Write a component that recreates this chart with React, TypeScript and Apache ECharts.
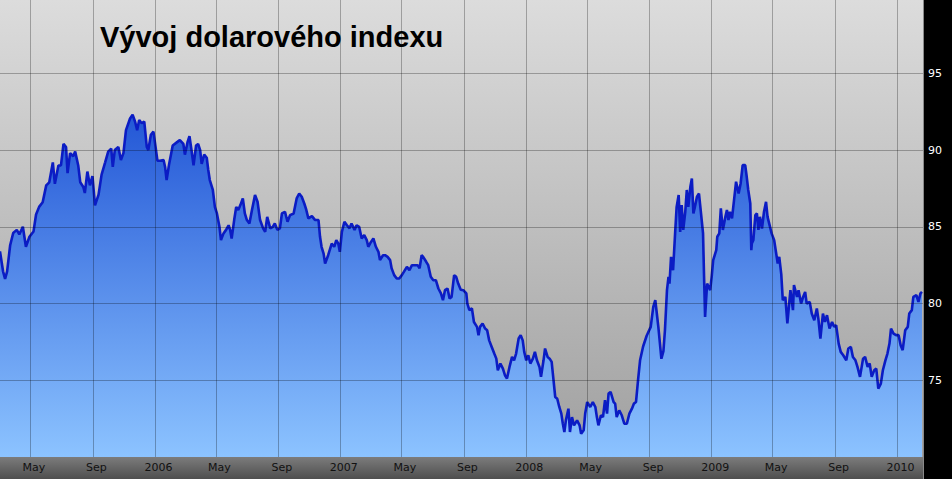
import React, { useEffect, useRef } from 'react';
import * as echarts from 'echarts';

// Dates are stored as day offsets from 2 March 2005.
const START = { y: 2005, m: 2, d: 2 };
const END_OFFSET = 1817;

const dayOffsets = [
  0, 6, 10, 14, 20, 26, 33, 38, 45, 51, 58, 66, 71, 77, 84, 91, 97, 104, 108, 115,
  120, 125, 130, 133, 138, 144, 148, 154, 158, 164, 167, 172, 177, 182, 187, 194, 200, 207, 213, 219,
  222, 226, 233, 238, 243, 248, 256, 261, 266, 270, 274, 279, 284, 289, 292, 297, 302, 305, 310, 315,
  322, 325, 328, 333, 340, 348, 354, 361, 364, 369, 373, 377, 381, 386, 390, 394, 397, 402, 407, 410,
  413, 419, 423, 427, 432, 435, 440, 445, 450, 453, 456, 461, 465, 469, 473, 478, 482, 486, 491, 496,
  502, 507, 512, 518, 522, 526, 532, 537, 541, 546, 551, 555, 561, 566, 571, 578, 584, 589, 594, 599,
  603, 607, 614, 620, 627, 630,
  633, 637, 640, 646, 653, 658, 662, 666, 669, 673, 678, 683, 688, 692, 698, 702, 707, 712, 717, 722,
  725, 730, 735, 740, 745, 748, 754, 758, 763, 768, 771, 776, 781, 786, 791, 795, 801, 806, 811, 817,
  822, 826, 830, 833, 839, 843, 848, 853, 858, 863, 868, 872, 876, 881, 885, 889, 894, 898, 902, 907, 912,
  918, 920, 924, 929, 933, 939, 942, 945, 950, 955, 959, 963, 968, 973, 977, 980, 985, 990, 994, 998,
  1003, 1008, 1012, 1016, 1021, 1025, 1029, 1032, 1036, 1040, 1044, 1049, 1053, 1057, 1062, 1065, 1070, 1073, 1078, 1082,
  1086, 1089, 1093, 1097, 1101, 1105, 1108, 1111, 1114, 1119, 1122, 1126, 1130, 1136, 1141, 1144, 1149, 1152, 1156, 1162,
  1167, 1172, 1175, 1178, 1183, 1187, 1191, 1195, 1198, 1202, 1208, 1211, 1214, 1219, 1224, 1229, 1234, 1239, 1244, 1248,
  1252, 1256, 1260,
  1266, 1273, 1281, 1286, 1290, 1293, 1296, 1302, 1306, 1309, 1313, 1316, 1318, 1321, 1325, 1329, 1332, 1336, 1339, 1342,
  1345, 1349, 1352, 1355, 1359, 1362, 1365, 1368, 1372, 1376, 1380, 1384, 1386, 1388, 1392, 1395, 1398, 1401, 1404, 1410,
  1412, 1416, 1419, 1423, 1428, 1431, 1434, 1437, 1441, 1445, 1449, 1454, 1458, 1462, 1467, 1470, 1473, 1477, 1479, 1480,
  1483, 1487, 1490, 1493, 1496, 1500, 1504, 1508, 1511, 1515, 1519, 1524, 1528, 1531, 1534, 1538,
  1541, 1546, 1550, 1556, 1561, 1563, 1569, 1572, 1577, 1581, 1585, 1588, 1594, 1598, 1603, 1608, 1611, 1615, 1620, 1624,
  1628, 1633, 1638, 1642, 1646, 1651, 1655, 1660, 1666, 1670, 1675, 1679, 1684, 1688, 1693, 1699, 1703, 1708, 1712, 1716,
  1721, 1725, 1729, 1734, 1738, 1743, 1747, 1751, 1754, 1759, 1764, 1769, 1773, 1777, 1782, 1787, 1790, 1795, 1798, 1804,
  1808, 1812, 1815,
];

const dollarIndex = [
  83.4, 82.1, 81.6, 82.1, 83.8, 84.6, 84.8, 84.5, 85.0, 83.7, 84.35, 84.7, 85.8, 86.3, 86.6, 87.7, 87.9, 89.2, 87.8, 89.0,
  89.0, 90.4, 90.2, 88.5, 89.8, 89.6, 89.9, 89.0, 87.9, 87.6, 87.2, 88.6, 87.7, 88.3, 86.4, 87.1, 88.4, 89.2, 89.9, 90.1,
  88.9, 90.0, 90.2, 89.35, 89.8, 91.3, 92.06, 92.3, 91.85, 91.3, 91.96, 91.75, 91.85, 90.2, 90.0, 91.0, 91.2, 90.5, 89.3, 89.3,
  89.35, 88.9, 88.05, 89.1, 90.3, 90.5, 90.65, 90.4, 89.7, 90.5, 90.9, 90.0, 89.0, 90.3, 90.4, 90.0, 89.1, 89.7, 89.5, 88.7,
  88.05, 87.4, 86.3, 85.87, 85.0, 84.13, 84.57, 84.8, 85.1, 84.8, 84.24, 85.44, 86.3, 86.1, 86.4, 86.85, 85.87, 85.44, 85.22, 86.1,
  87.07, 86.63, 85.44, 84.9, 84.67, 85.65, 84.9, 85.0, 85.22, 84.8, 84.9, 85.87, 85.98, 85.33, 85.76, 85.87, 86.85, 87.17, 86.96, 86.52,
  86.1, 85.55, 85.7, 85.45, 85.44, 84.35,
  83.7, 83.26, 82.6, 83.15, 83.9, 83.7, 84.13, 83.9, 83.37, 84.67, 85.33, 85.1, 84.9, 85.22, 84.8, 85.1, 85.0, 84.24, 84.46, 84.13,
  83.7, 84.0, 84.24, 83.7, 83.37, 82.83, 83.15, 83.15, 83.04, 82.83, 82.29, 81.85, 81.63, 81.63, 81.85, 82.06, 82.39, 82.18, 82.5, 82.5,
  82.5, 82.29, 83.15, 83.04, 82.72, 82.5, 81.74, 81.52, 81.52, 80.98, 80.66, 80.22, 80.87, 80.98, 80.33, 80.43, 81.85, 81.74, 81.3, 80.9, 80.87,
  80.66, 80.0, 79.57, 79.68, 78.8, 78.48, 77.94, 78.48, 78.7, 78.37, 78.26, 77.6, 77.17, 76.74, 76.41, 75.65, 76.09, 75.76, 75.33, 75.11,
  75.87, 76.52, 76.3, 76.74, 77.72, 77.94, 77.6, 76.85, 76.3, 76.63, 76.09, 76.41, 76.85, 76.3, 75.87, 75.22, 76.3, 77.07, 76.52, 76.41,
  76.2, 75.22, 73.91, 73.8, 73.26, 72.83, 72.17, 71.63, 72.39, 73.15, 71.63, 72.6, 72.06, 72.39, 72.06, 71.52, 71.74, 72.83, 73.58, 73.26,
  73.58, 73.26, 72.6, 72.06, 72.72, 72.6, 73.7, 72.83, 74.13, 74.24, 73.58, 73.48, 72.6, 73.04, 72.72, 72.17, 72.17, 72.83, 73.15, 73.48,
  73.58, 75.0, 76.3,
  77.2, 77.9, 78.48, 79.78, 80.22, 79.35, 78.48, 76.4, 76.9, 78.26, 80.87, 81.74, 81.3, 83.04, 82.17, 84.57, 86.3, 87.07, 84.67, 86.41,
  84.8, 85.98, 87.4, 86.3, 87.6, 88.15, 85.87, 86.3, 86.96, 87.17, 85.87, 84.57, 81.74, 79.13, 81.3, 81.08, 80.87, 81.74, 82.83, 83.48,
  84.35, 84.57, 86.2, 84.8, 85.65, 86.1, 85.44, 85.98, 85.55, 86.74, 87.94, 87.17, 87.83, 89.02, 89.02, 88.26, 87.4, 86.52, 83.48, 83.91,
  84.13, 85.76, 85.87, 84.8, 85.65, 84.89, 85.98, 86.63, 85.65, 85.11, 84.57, 84.13, 83.26, 82.61, 83.04, 81.9,
  80.22, 80.43, 78.7, 80.87, 79.57, 81.2, 80.43, 80.87, 80.0, 80.43, 80.76, 80.0, 80.11, 79.35, 78.91, 79.68, 79.02, 77.72, 79.35, 78.8,
  79.24, 78.37, 78.8, 78.48, 78.59, 77.39, 76.85, 76.63, 76.3, 77.07, 77.17, 76.52, 76.3, 75.87, 75.22, 76.41, 76.52, 75.87, 76.09, 75.22,
  75.65, 75.76, 74.46, 74.78, 75.65, 76.3, 76.74, 77.39, 78.37, 78.04, 77.94, 77.94, 77.28, 76.96, 78.26, 78.48, 79.35, 79.57, 80.43, 80.54,
  80.11, 80.66, 80.76,
];

const tickDates = [
  '2005-05-01', '2005-09-01', '2006-01-01', '2006-05-01', '2006-09-01', '2007-01-01', '2007-05-01', '2007-09-01',
  '2008-01-01', '2008-05-01', '2008-09-01', '2009-01-01', '2009-05-01', '2009-09-01', '2010-01-01',
];
const tickLabels = ['May', 'Sep', '2006', 'May', 'Sep', '2007', 'May', 'Sep', '2008', 'May', 'Sep', '2009', 'May', 'Sep', '2010'];

const yTickValues = [75, 80, 85, 90, 95];
const Y_MIN = 70;
const Y_MAX = 99.78;
const TITLE = 'Vývoj dolarového indexu';

const DAY_MS = 86400000;
function dayToTime(d: number) {
  return new Date(START.y, START.m, START.d + d).getTime();
}
function parseDate(s: string) {
  const [y, m, d] = s.split('-').map(Number);
  return new Date(y, m - 1, d).getTime();
}

export default function App() {
  const ref = useRef<HTMLDivElement>(null);
  useEffect(() => {
    if (!ref.current) return;
    const chart = echarts.init(ref.current, undefined, { renderer: 'svg' });
    const tickTimes = tickDates.map(parseDate);
    const data = dayOffsets.map((d, i) => [dayToTime(d), dollarIndex[i]]);
    chart.setOption({
      animation: false,
      backgroundColor: '#000000',
      grid: {
        left: 0,
        right: 29,
        top: 0,
        bottom: 22,
        outerBoundsMode: 'none',
        containLabel: false,
        show: true,
        borderWidth: 0,
        backgroundColor: new echarts.graphic.LinearGradient(0, 0, 0, 1, [
          { offset: 0, color: '#dcdcdc' },
          { offset: 1, color: '#a0a0a0' },
        ]),
      },
      graphic: [
        {
          type: 'rect',
          z: 1,
          shape: { x: 0, y: 457, width: 923, height: 22 },
          style: {
            fill: new echarts.graphic.LinearGradient(0, 0, 0, 1, [
              { offset: 0, color: '#7c7c7c' },
              { offset: 1, color: '#4e4e4e' },
            ]),
          },
        },
        {
          type: 'line',
          z: 10,
          shape: { x1: 923.5, y1: 0, x2: 923.5, y2: 479 },
          style: { stroke: '#8a8a8a', lineWidth: 1 },
        },
        {
          type: 'text',
          z: 10,
          x: 100,
          y: 22,
          style: {
            text: TITLE,
            fill: '#000000',
            font: 'bold 29px "Liberation Sans", Arial, sans-serif',
            verticalAlign: 'top',
          },
        },
      ],
      xAxis: {
        type: 'value',
        min: dayToTime(0),
        max: dayToTime(END_OFFSET),
        z: 5,
        axisLine: { show: false },
        axisTick: { show: false, customValues: tickTimes },
        axisLabel: {
          customValues: tickTimes,
          margin: 5,
          color: '#111111',
          fontSize: 11,
          fontFamily: '"DejaVu Sans", Verdana, sans-serif',
          padding: [0, 0, 0, 7],
          formatter: (v: number) => {
            const i = tickTimes.findIndex((t) => Math.abs(t - v) < DAY_MS);
            return i >= 0 ? tickLabels[i] : '';
          },
        },
        splitLine: { show: true, lineStyle: { color: 'rgba(0,0,0,0.28)', width: 1 } },
      },
      yAxis: {
        type: 'value',
        position: 'right',
        min: Y_MIN,
        max: Y_MAX,
        z: 5,
        axisLine: { show: false },
        axisTick: { show: false, customValues: yTickValues },
        axisLabel: {
          customValues: yTickValues,
          margin: 5,
          color: '#ffffff',
          fontSize: 11,
          fontFamily: '"DejaVu Sans", Verdana, sans-serif',
          formatter: (v: number) => String(v),
        },
        splitLine: { show: true, lineStyle: { color: 'rgba(0,0,0,0.28)', width: 1 } },
      },
      series: [
        {
          type: 'line',
          data,
          showSymbol: false,
          symbol: 'none',
          z: 2,
          lineStyle: { color: '#0b1cc4', width: 2.6 },
          areaStyle: {
            color: new echarts.graphic.LinearGradient(0, 0, 0, 1, [
              { offset: 0, color: '#2357d6' },
              { offset: 1, color: '#8cc3ff' },
            ]),
            opacity: 1,
          },
        },
      ],
    });
    return () => chart.dispose();
  }, []);
  return (
    <div
      ref={ref}
      style={{ position: 'absolute', left: 0, top: 0, width: 952, height: 479 }}
    />
  );
}
